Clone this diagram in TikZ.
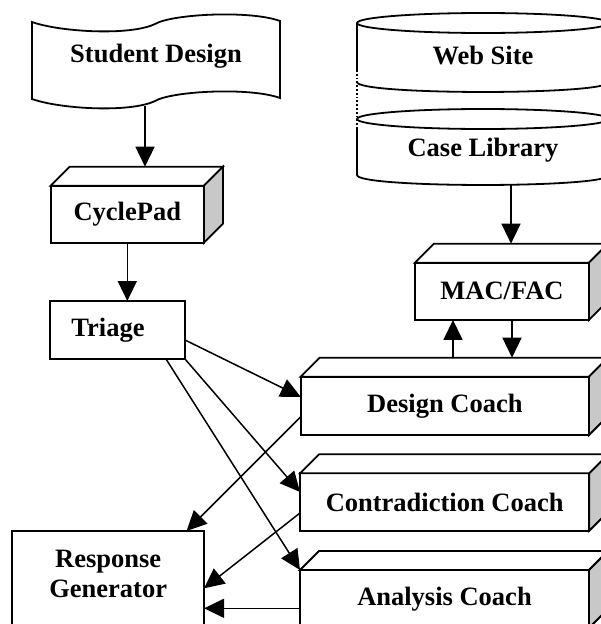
\documentclass[tikz,border=0pt]{standalone}
\usepackage{fontspec}
\setmainfont{Liberation Serif}
\usetikzlibrary{arrows.meta,calc}
\definecolor{sidegray}{RGB}{200,200,200}

\begin{document}
\begin{tikzpicture}[x=1pt,y=-1pt,
  every node/.style={font=\fontsize{26.5}{30}\selectfont\bfseries},
  outline/.style={line width=1.8pt, line join=miter},
  frontface/.style={outline, draw, fill=white, inner sep=0pt, outer sep=0pt},
  conn/.style={line width=1.5pt, -{Triangle[length=20pt,width=19pt]}}]

\useasboundingbox (0,0) rectangle (601,624);
\clip (0,0) rectangle (601,624);

% ---- Student Design (tape shape)
\draw[outline, fill=white]
  (32,22) .. controls (60,32) and (130,36) .. (155,24)
          .. controls (172,14) and (250,10) .. (280,21)
  -- (280,98) .. controls (250,87) and (172,91) .. (155,101)
              .. controls (130,113) and (60,109) .. (32,99) -- cycle;
\node (sd) at (156,56) {Student Design};
\coordinate (sdout) at (145,106);

% ---- Web Site and Case Library (cylinders)
\draw[outline, fill=white] (357,23) -- (357,82)
  .. controls (357,95.3) and (609,95.3) .. (609,82) -- (609,23);
\draw[outline] (483,23) ellipse [x radius=126pt, y radius=10pt];
\node (ws) at (483,56) {Web Site};

\draw[outline, fill=white] (357,119) -- (357,175)
  .. controls (357,188.3) and (609,188.3) .. (609,175) -- (609,119);
\draw[outline] (483,119) ellipse [x radius=126pt, y radius=10pt];
\node (cl) at (483,150) {Case Library};
\coordinate (clout) at (511,185);

% dotted link between the two stores
\draw[white, line width=2.6pt] (357,70) -- (357,82) (357,119) -- (357,128);
\draw[line width=1.8pt, dotted] (357,70) -- (357,128);

% ---- front faces of the boxes
\node[frontface, minimum width=153.3pt, minimum height=57pt] (cp) at (127.3,214.2) {CyclePad};
\node[frontface, minimum width=135pt, minimum height=58pt] (tri) at (117.5,330) {Triage\hspace*{19pt}};
\node[frontface, minimum width=174pt, minimum height=57.3pt] (mf) at (502,291.3) {MAC/FAC};
\node[frontface, minimum width=288.3pt, minimum height=58.3pt] (dc) at (444.85,405.85) {Design Coach};
\node[frontface, minimum width=289.3pt, minimum height=57.4pt] (cc) at (444.65,502) {Contradiction Coach};
\node[frontface, minimum width=289pt, minimum height=58pt] (ac) at (444.5,599) {Analysis Coach};
\node[frontface, anchor=north, minimum width=191.7pt, align=center,
      text height=66pt, text depth=60pt] (rg) at (108.2,531) {Response\\Generator};

% ---- top and side faces of the 3D boxes
\foreach \n in {cp,mf,dc,cc,ac}{
  \draw[outline, fill=white] (\n.north west) -- ++(19,-19)
    -- ([shift={(19,-19)}]\n.north east) -- (\n.north east) -- cycle;
  \draw[outline, fill=sidegray] (\n.north east) -- ([shift={(19,-19)}]\n.north east)
    -- ([shift={(19,-19)}]\n.south east) -- (\n.south east) -- cycle;
}

\coordinate (cptop) at ($(cp.north)+(0,-19)$);
\coordinate (mftop) at ($(mf.north)+(0,-19)$);
\coordinate (dctop) at ($(dc.north)+(0,-19)$);
\coordinate (acout) at ([yshift=-9.3pt]ac.west);

% ---- connectors
\draw[conn] (sdout) -- (sdout |- cptop);
\draw[conn] (cp.south) -- (cp.south |- tri.north);
\draw[conn] (clout) -- (clout |- mftop);
\draw[conn] ([xshift=10pt]mf.south) -- ([xshift=10pt]mf.south |- dctop);
\draw[conn] ([xshift=-49pt]mf.south |- dctop) -- ([xshift=-49pt]mf.south);
\draw[conn] ([yshift=-10pt]tri.east) -- ([yshift=9pt]dc.west);
\draw[conn] (tri.south east) -- ([yshift=10pt]cc.west);
\draw[conn] ([xshift=-19pt]tri.south east) -- (ac.north west);
\draw[conn] ([yshift=-11pt]dc.west) -- ([xshift=-17.5pt]rg.north east);
\draw[conn] ([yshift=-11pt]cc.west) -- ([yshift=-57.3pt]rg.north east);
\draw[conn] (acout) -- (acout -| rg.east);
\end{tikzpicture}
\end{document}
